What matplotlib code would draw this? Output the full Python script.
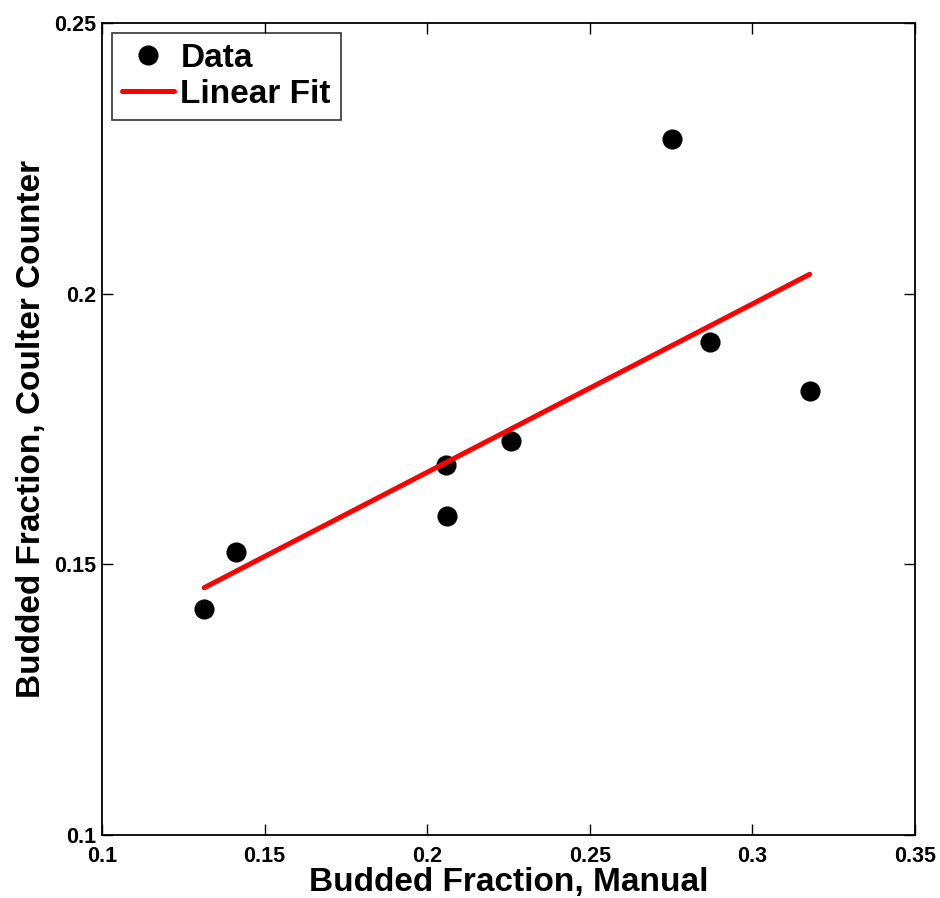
import numpy as np
import matplotlib
matplotlib.use('Agg')
import matplotlib.pyplot as plt

# measured budded fractions
manual = [0.1314, 0.1411, 0.2057, 0.2060, 0.2259, 0.2754, 0.2870, 0.3176]
coulter = [0.1417, 0.1523, 0.1684, 0.1589, 0.1728, 0.2285, 0.1911, 0.1820]

# linear fit coefficients
fit_slope = 0.311
fit_intercept = 0.1048

xticks = [0.1, 0.15, 0.2, 0.25, 0.3, 0.35]
yticks = [0.1, 0.15, 0.2, 0.25]

plt.rcParams['font.family'] = ['Liberation Sans', 'DejaVu Sans']
plt.rcParams['font.weight'] = 'bold'

fig = plt.figure(figsize=(9.4, 8.98), dpi=100)
ax = fig.add_axes([0.1085, 0.0702, 0.8649, 0.9042])

ax.plot(manual, coulter, 'o', color='black', markersize=13.5, label='Data', zorder=2)
fx = np.array([min(manual), max(manual)])
ax.plot(fx, fit_slope * fx + fit_intercept, '-', color='red', linewidth=3.6,
        solid_capstyle='round', label='Linear Fit', zorder=3)

ax.set_xlim(0.1, 0.35)
ax.set_ylim(0.1, 0.25)
ax.set_xticks(xticks)
ax.set_yticks(yticks)
ax.set_xticklabels([f'{t:g}' for t in xticks], fontsize=15.5, fontweight='bold')
ax.set_yticklabels([f'{t:g}' for t in yticks], fontsize=15.5, fontweight='bold')
ax.tick_params(direction='in', length=8, width=1, top=True, right=True)
ax.tick_params(axis='x', pad=8)
ax.tick_params(axis='y', pad=4)
for s in ax.spines.values():
    s.set_linewidth(1.3)

ax.set_xlabel('Budded Fraction, Manual', fontsize=24, fontweight='bold', labelpad=0)
ax.set_ylabel('Budded Fraction, Coulter Counter', fontsize=24, fontweight='bold', labelpad=5)

leg = ax.legend(loc='upper left', fontsize=24, frameon=True, fancybox=False,
                edgecolor='black', borderpad=0.3, handlelength=1.55,
                handletextpad=0.2, labelspacing=0.15, borderaxespad=0.3)
leg.get_frame().set_linewidth(1.2)

fig.savefig('out.png', dpi=100)
